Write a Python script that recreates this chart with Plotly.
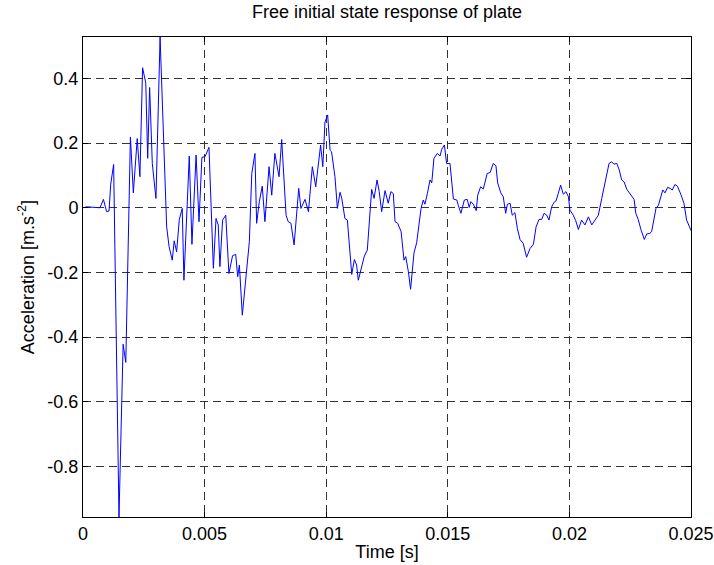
import plotly.graph_objects as go

# time in milliseconds (converted to seconds below), acceleration in m/s^2
time_ms = [0.00, 0.15, 0.70, 0.84, 0.97, 1.07, 1.14, 1.26, 1.48, 1.65, 1.76, 1.95,
           2.07, 2.23, 2.34, 2.45, 2.58, 2.66, 2.74, 2.85, 3.00, 3.17, 3.44, 3.54,
           3.67, 3.75, 3.85, 3.96, 4.08, 4.15, 4.37, 4.48, 4.65, 4.77, 4.89, 5.02,
           5.18, 5.36, 5.47, 5.56, 5.63, 5.74, 5.87, 6.00, 6.15, 6.28, 6.36, 6.43,
           6.55, 6.73, 6.84, 6.94, 7.07, 7.14, 7.25, 7.37, 7.48, 7.65, 7.76, 7.89,
           8.06, 8.17, 8.35, 8.44, 8.55, 8.68, 8.79, 8.87, 8.96, 9.13, 9.27, 9.43,
           9.57, 9.77, 9.86, 9.95, 10.06, 10.16, 10.22, 10.36, 10.46, 10.57, 10.64,
           10.77, 10.87, 11.05, 11.16, 11.25, 11.32, 11.43, 11.57, 11.69, 11.80,
           11.87, 11.97, 12.09, 12.18, 12.28, 12.42, 12.55, 12.66, 12.76, 12.83,
           12.94, 13.08, 13.20, 13.27, 13.38, 13.47, 13.61, 13.72, 13.90, 13.99,
           14.06, 14.16, 14.27, 14.34, 14.43, 14.57, 14.68, 14.75, 14.86, 14.95,
           15.09, 15.23, 15.37, 15.43, 15.54, 15.68, 15.80, 15.88, 15.95, 16.05,
           16.17, 16.23, 16.35, 16.46, 16.62, 16.74, 16.87, 16.98, 17.05, 17.18,
           17.28, 17.38, 17.45, 17.56, 17.65, 17.76, 17.86, 17.97, 18.10, 18.24,
           18.38, 18.52, 18.63, 18.75, 18.86, 18.96, 19.07, 19.16, 19.27, 19.37,
           19.45, 19.54, 19.64, 19.75, 19.86, 19.96, 20.02, 20.16, 20.26, 20.37,
           20.50, 20.64, 20.78, 20.92, 21.05, 21.19, 21.33, 21.46, 21.63, 21.74,
           21.83, 21.95, 22.05, 22.15, 22.25, 22.36, 22.49, 22.66, 22.73, 22.83,
           22.94, 23.08, 23.18, 23.31, 23.38, 23.48, 23.56, 23.66, 23.75, 23.84,
           23.93, 24.04, 24.14, 24.23, 24.34, 24.44, 24.58, 24.71, 24.82, 25.00]
accel = [0.000, 0.003, 0.000, 0.026, -0.012, -0.010, 0.073, 0.134, -0.956, -0.422, -0.478, 0.219,
         0.046, 0.214, 0.096, 0.433, 0.386, 0.153, 0.372, 0.137, 0.029, 0.528, -0.059, -0.120,
         -0.162, -0.102, -0.136, -0.036, -0.002, -0.224, 0.160, -0.113, 0.163, -0.043, 0.156, 0.158,
         0.187, -0.187, -0.033, -0.053, -0.182, -0.038, -0.023, -0.203, -0.148, -0.144, -0.213, -0.177,
         -0.332, -0.198, -0.105, 0.106, 0.168, -0.048, 0.019, 0.067, -0.043, 0.127, 0.039, 0.168,
         0.096, 0.211, -0.023, -0.043, -0.048, -0.115, -0.002, 0.060, -0.002, 0.026, -0.012, 0.127,
         0.065, 0.194, 0.127, 0.265, 0.287, 0.178, 0.173, 0.096, -0.002, 0.048, 0.029,
         -0.033, -0.038, -0.206, -0.160, -0.177, -0.224, -0.190, -0.149, -0.131, 0.003,
         0.057, 0.029, 0.086, 0.050, -0.012, 0.053, 0.014, 0.050, 0.044, -0.043,
         -0.048, -0.074, -0.162, -0.151, -0.198, -0.252, -0.139, -0.108, -0.002, 0.024,
         0.011, 0.044, 0.086, 0.077, 0.153, 0.168, 0.160, 0.181, 0.194, 0.137,
         0.137, 0.027, 0.024, 0.008, -0.017, 0.024, 0.026, 0.001, 0.019, 0.011,
         -0.009, 0.039, 0.065, 0.058, 0.106, 0.109, 0.137, 0.130, 0.077, 0.046,
         0.034, -0.017, 0.011, 0.014, -0.023, -0.015, -0.064, -0.098, -0.110, -0.153,
         -0.126, -0.113, -0.059, -0.036, -0.036, -0.017, -0.023, -0.038, 0.003, 0.017,
         0.021, 0.044, 0.070, 0.042, 0.050, 0.034, -0.007, -0.023, -0.040, -0.067,
         -0.038, -0.053, -0.028, -0.053, -0.038, -0.023, 0.029, 0.080, 0.137, 0.142,
         0.135, 0.137, 0.117, 0.086, 0.080, 0.057, 0.044, 0.026, -0.017, -0.036,
         -0.067, -0.098, -0.081, -0.079, -0.074, -0.028, -0.002, 0.008, 0.034, 0.055,
         0.046, 0.063, 0.060, 0.055, 0.072, 0.067, 0.042, 0.014, -0.038, -0.070]

time_s = [t / 1000.0 for t in time_ms]

x_tickvals = [0, 0.005, 0.01, 0.015, 0.02, 0.025]
x_ticktext = ["0", "0.005", "0.01", "0.015", "0.02", "0.025"]
y_tickvals = [0.4, 0.2, 0, -0.2, -0.4, -0.6, -0.8]
y_ticktext = ["0.4", "0.2", "0", "-0.2", "-0.4", "-0.6", "-0.8"]

font_family = "Liberation Sans, Arial, sans-serif"
fsize = 18

fig = go.Figure()
fig.add_trace(go.Scatter(x=time_s, y=accel, mode="lines",
                         line=dict(color="#0000ff", width=1), showlegend=False))

axis_common = dict(
    showline=True, linecolor="black", linewidth=1, mirror="ticks",
    ticks="inside", ticklen=5, tickcolor="black",
    showgrid=True, gridcolor="#333333", gridwidth=1, griddash="8px,5px",
    zeroline=False, automargin=False,
    tickfont=dict(family=font_family, size=fsize, color="black"),
)

fig.update_xaxes(range=[0, 0.025], tickvals=x_tickvals, ticktext=x_ticktext,
                 title=dict(text="Time [s]", font=dict(family=font_family, size=fsize, color="black"),
                            standoff=2),
                 **axis_common)
fig.update_yaxes(range=[-0.956, 0.528], tickvals=y_tickvals, ticktext=y_ticktext,
                 title=dict(text="Acceleration [m.s<sup>-2</sup>]",
                            font=dict(family=font_family, size=fsize, color="black"), standoff=8),
                 **axis_common)

fig.update_layout(
    width=714, height=565,
    margin=dict(l=83, r=23, t=37, b=48, autoexpand=False),
    paper_bgcolor="white", plot_bgcolor="white",
    title=dict(text="Free initial state response of plate", x=0.5, xanchor="center",
               xref="paper", y=0.979, yanchor="middle",
               font=dict(family=font_family, size=fsize, color="black")),
)

fig.write_html("out.html",
               config={"displayModeBar": False},
               post_script="document.body.style.margin='0px';document.body.style.overflow='hidden';")
